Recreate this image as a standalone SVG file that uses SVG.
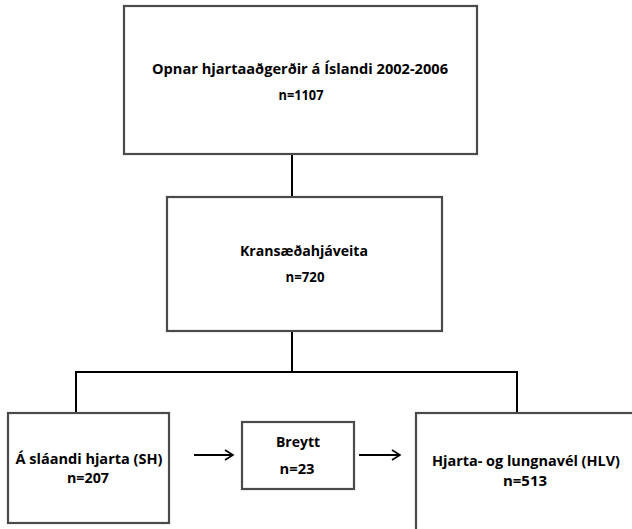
<svg xmlns="http://www.w3.org/2000/svg" width="632" height="529" viewBox="0 0 632 529">
<style>
.box{fill:#fff;stroke:#4a4a4a;stroke-width:2.2}
.t{font-family:"Open Sans","Noto Sans","Liberation Sans",sans-serif;font-weight:bold;font-size:15px;fill:#000;text-anchor:middle}
.c{fill:none;stroke:#000;stroke-width:2}
</style>
<defs>
<marker id="ah" markerWidth="12" markerHeight="12" refX="10" refY="6" orient="auto" markerUnits="userSpaceOnUse">
<polyline points="2,1 10,6 2,11" fill="none" stroke="#000" stroke-width="1.6"/>
</marker>
</defs>
<rect width="632" height="529" fill="#fff"/>
<g id="connectors">
<line class="c" x1="292" y1="154" x2="292" y2="197"/>
<line class="c" x1="292" y1="331" x2="292" y2="372"/>
<polyline class="c" points="76,413 76,372 517,372 517,413"/>
<line class="c" x1="194" y1="455" x2="233" y2="455" stroke-width="1.6" marker-end="url(#ah)"/>
<line class="c" x1="359" y1="455" x2="400" y2="455" stroke-width="1.6" marker-end="url(#ah)"/>
</g>
<g id="n1">
<rect class="box" x="124" y="6" width="353" height="148"/>
<text class="t" x="300" y="74" textLength="296" lengthAdjust="spacingAndGlyphs">Opnar hjartaaðgerðir á Íslandi 2002-2006</text>
<text class="t" x="301" y="100" textLength="45" lengthAdjust="spacingAndGlyphs">n=1107</text>
</g>
<g id="n2">
<rect class="box" x="167" y="197" width="275" height="134"/>
<text class="t" x="304" y="256" textLength="128" lengthAdjust="spacingAndGlyphs">Kransæðahjáveita</text>
<text class="t" x="305" y="282" textLength="39" lengthAdjust="spacingAndGlyphs">n=720</text>
</g>
<g id="n3">
<rect class="box" x="8" y="413" width="161" height="110"/>
<text class="t" x="89" y="464" textLength="147" lengthAdjust="spacingAndGlyphs">Á sláandi hjarta (SH)</text>
<text class="t" x="88" y="483" textLength="42" lengthAdjust="spacingAndGlyphs">n=207</text>
</g>
<g id="n4">
<rect class="box" x="242" y="422" width="112" height="67"/>
<text class="t" x="298" y="447" textLength="44" lengthAdjust="spacingAndGlyphs">Breytt</text>
<text class="t" x="297" y="474" textLength="35" lengthAdjust="spacingAndGlyphs">n=23</text>
</g>
<g id="n5">
<rect class="box" x="416" y="413" width="230" height="130"/>
<text class="t" x="526" y="466" textLength="188" lengthAdjust="spacingAndGlyphs">Hjarta- og lungnavél (HLV)</text>
<text class="t" x="525" y="486" textLength="44" lengthAdjust="spacingAndGlyphs">n=513</text>
</g>
</svg>
